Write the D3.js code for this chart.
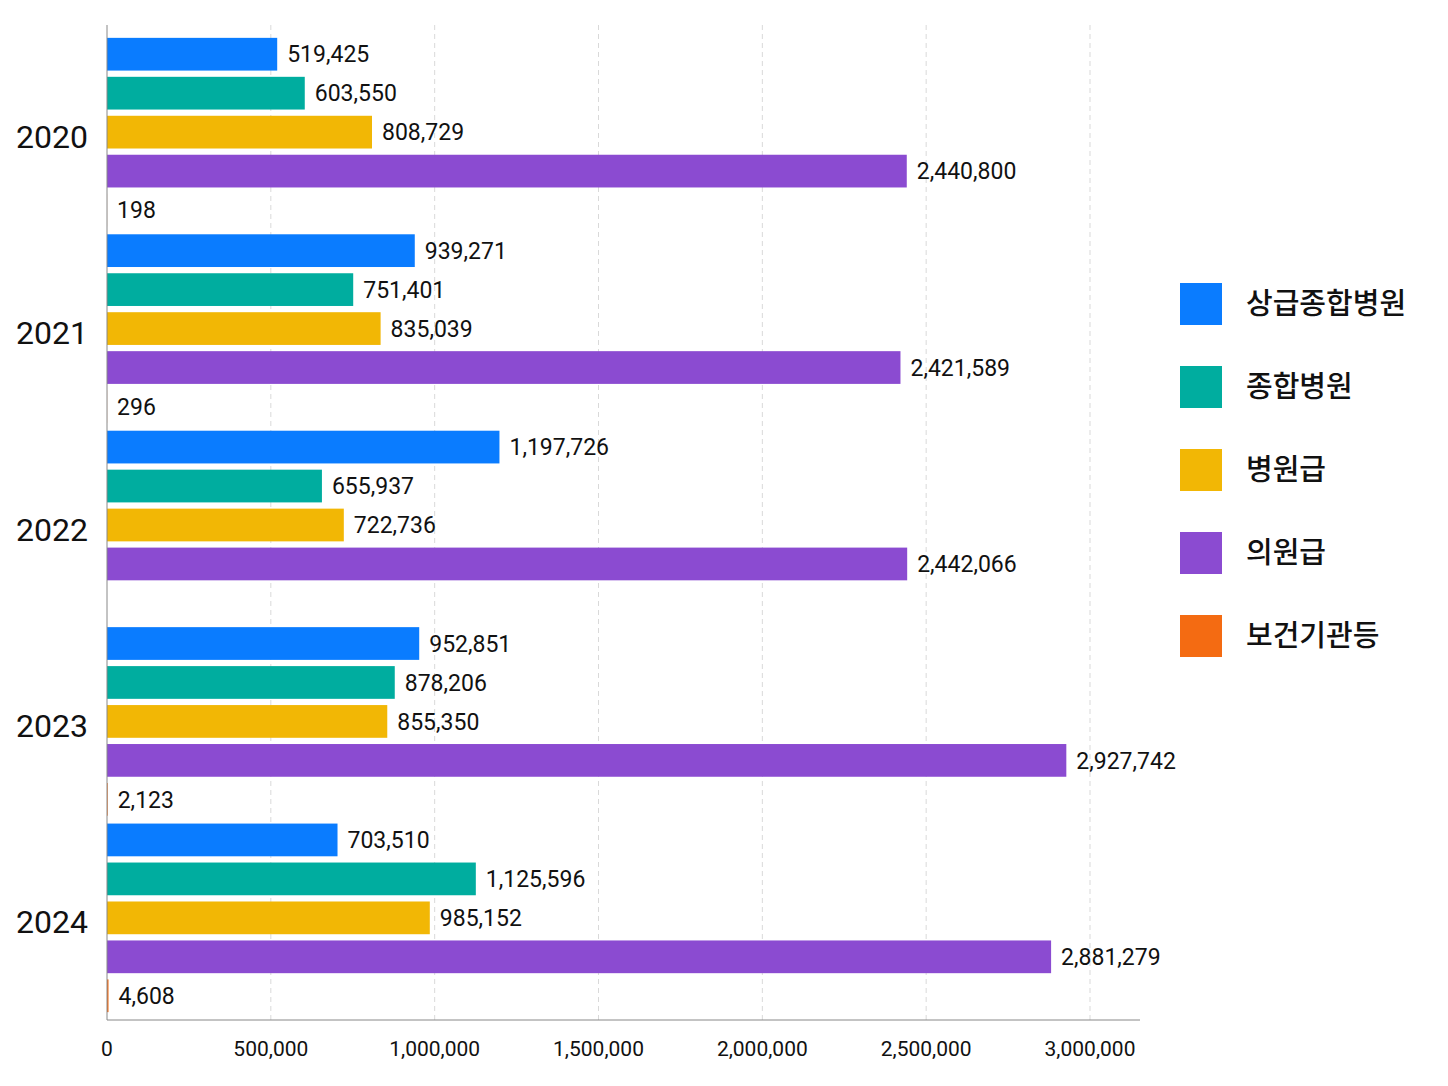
<!DOCTYPE html>
<html><head><meta charset="utf-8">
<script src="https://cdn.jsdelivr.net/npm/d3@7"></script>
<style>
body{margin:0;background:#fff;}
text{font-family:Roboto,"Noto Sans CJK KR",sans-serif;}
</style></head>
<body><svg id="c" width="1448" height="1086"></svg>
<script>
// 연도별 기관 종별 값
const years = ['2020', '2021', '2022', '2023', '2024'];
const series = ['상급종합병원', '종합병원', '병원급', '의원급', '보건기관등'];
const colors = ['#0a7cff', '#00ad9f', '#f2b705', '#8b4bd1', '#f46b12'];
const v상급 = [519425, 939271, 1197726, 952851, 703510];
const v종합 = [603550, 751401, 655937, 878206, 1125596];
const v병원 = [808729, 835039, 722736, 855350, 985152];
const v의원 = [2440800, 2421589, 2442066, 2927742, 2881279];
const v보건 = [198, 296, null, 2123, 4608];
const xTicks = [0, 500000, 1000000, 1500000, 2000000, 2500000, 3000000];

const values = [v상급, v종합, v병원, v의원, v보건];
const svg = d3.select('#c');
const mLeft = 107, mTop = 30, mBottom = 1020;

const x = d3.scaleLinear().domain([0, 3000000]).range([mLeft, 1090]);
const y = d3.scaleBand().domain(years).range([mTop, mBottom]).paddingInner(0.04).paddingOuter(0.04);
const yi = d3.scaleBand().domain(series).range([0, y.bandwidth()]).paddingInner(0.16);

// 그리드 (점선)
svg.append('g').selectAll('line').data(xTicks.slice(1)).join('line')
  .attr('x1', d => x(d)).attr('x2', d => x(d)).attr('y1', 25).attr('y2', mBottom)
  .attr('stroke', '#d9d9d9').attr('stroke-dasharray', '5,4');

const fmt = d3.format(',');
years.forEach((yr, i) => {
  const g = svg.append('g').attr('transform', `translate(0,${y(yr)})`);
  series.forEach((s, j) => {
    const v = values[j][i];
    if (v == null) return;
    g.append('rect').attr('x', mLeft).attr('y', yi(s))
      .attr('width', x(v) - mLeft).attr('height', yi.bandwidth()).attr('fill', colors[j]);
    g.append('text').attr('x', x(v) + 10).attr('y', yi(s) + yi.bandwidth() / 2)
      .attr('dy', '0.36em').attr('font-size', 23).attr('fill', '#111').text(fmt(v));
  });
  svg.append('text').attr('x', 88).attr('y', y(yr) + y.bandwidth() / 2 + 4)
    .attr('dy', '0.36em').attr('text-anchor', 'end').attr('font-size', 32).attr('fill', '#111').text(yr);
});

// 축
svg.append('line').attr('x1', mLeft).attr('x2', mLeft).attr('y1', 25).attr('y2', mBottom).attr('stroke', '#888');
svg.append('line').attr('x1', mLeft).attr('x2', 1140).attr('y1', mBottom).attr('y2', mBottom).attr('stroke', '#888');
svg.append('g').selectAll('text').data(xTicks).join('text')
  .attr('x', d => x(d)).attr('y', 1056).attr('text-anchor', 'middle')
  .attr('font-size', 21).attr('fill', '#111').text(d => fmt(d));

// 범례
const lg = svg.append('g').selectAll('g').data(series).join('g')
  .attr('transform', (d, i) => `translate(1180,${283 + i * 83})`);
lg.append('rect').attr('width', 42).attr('height', 42).attr('fill', (d, i) => colors[i]);
lg.append('text').attr('x', 66).attr('y', 21).attr('dy', '0.36em')
  .attr('font-size', 29).attr('font-weight', 500).attr('fill', '#111').text(d => d);
</script></body></html>
